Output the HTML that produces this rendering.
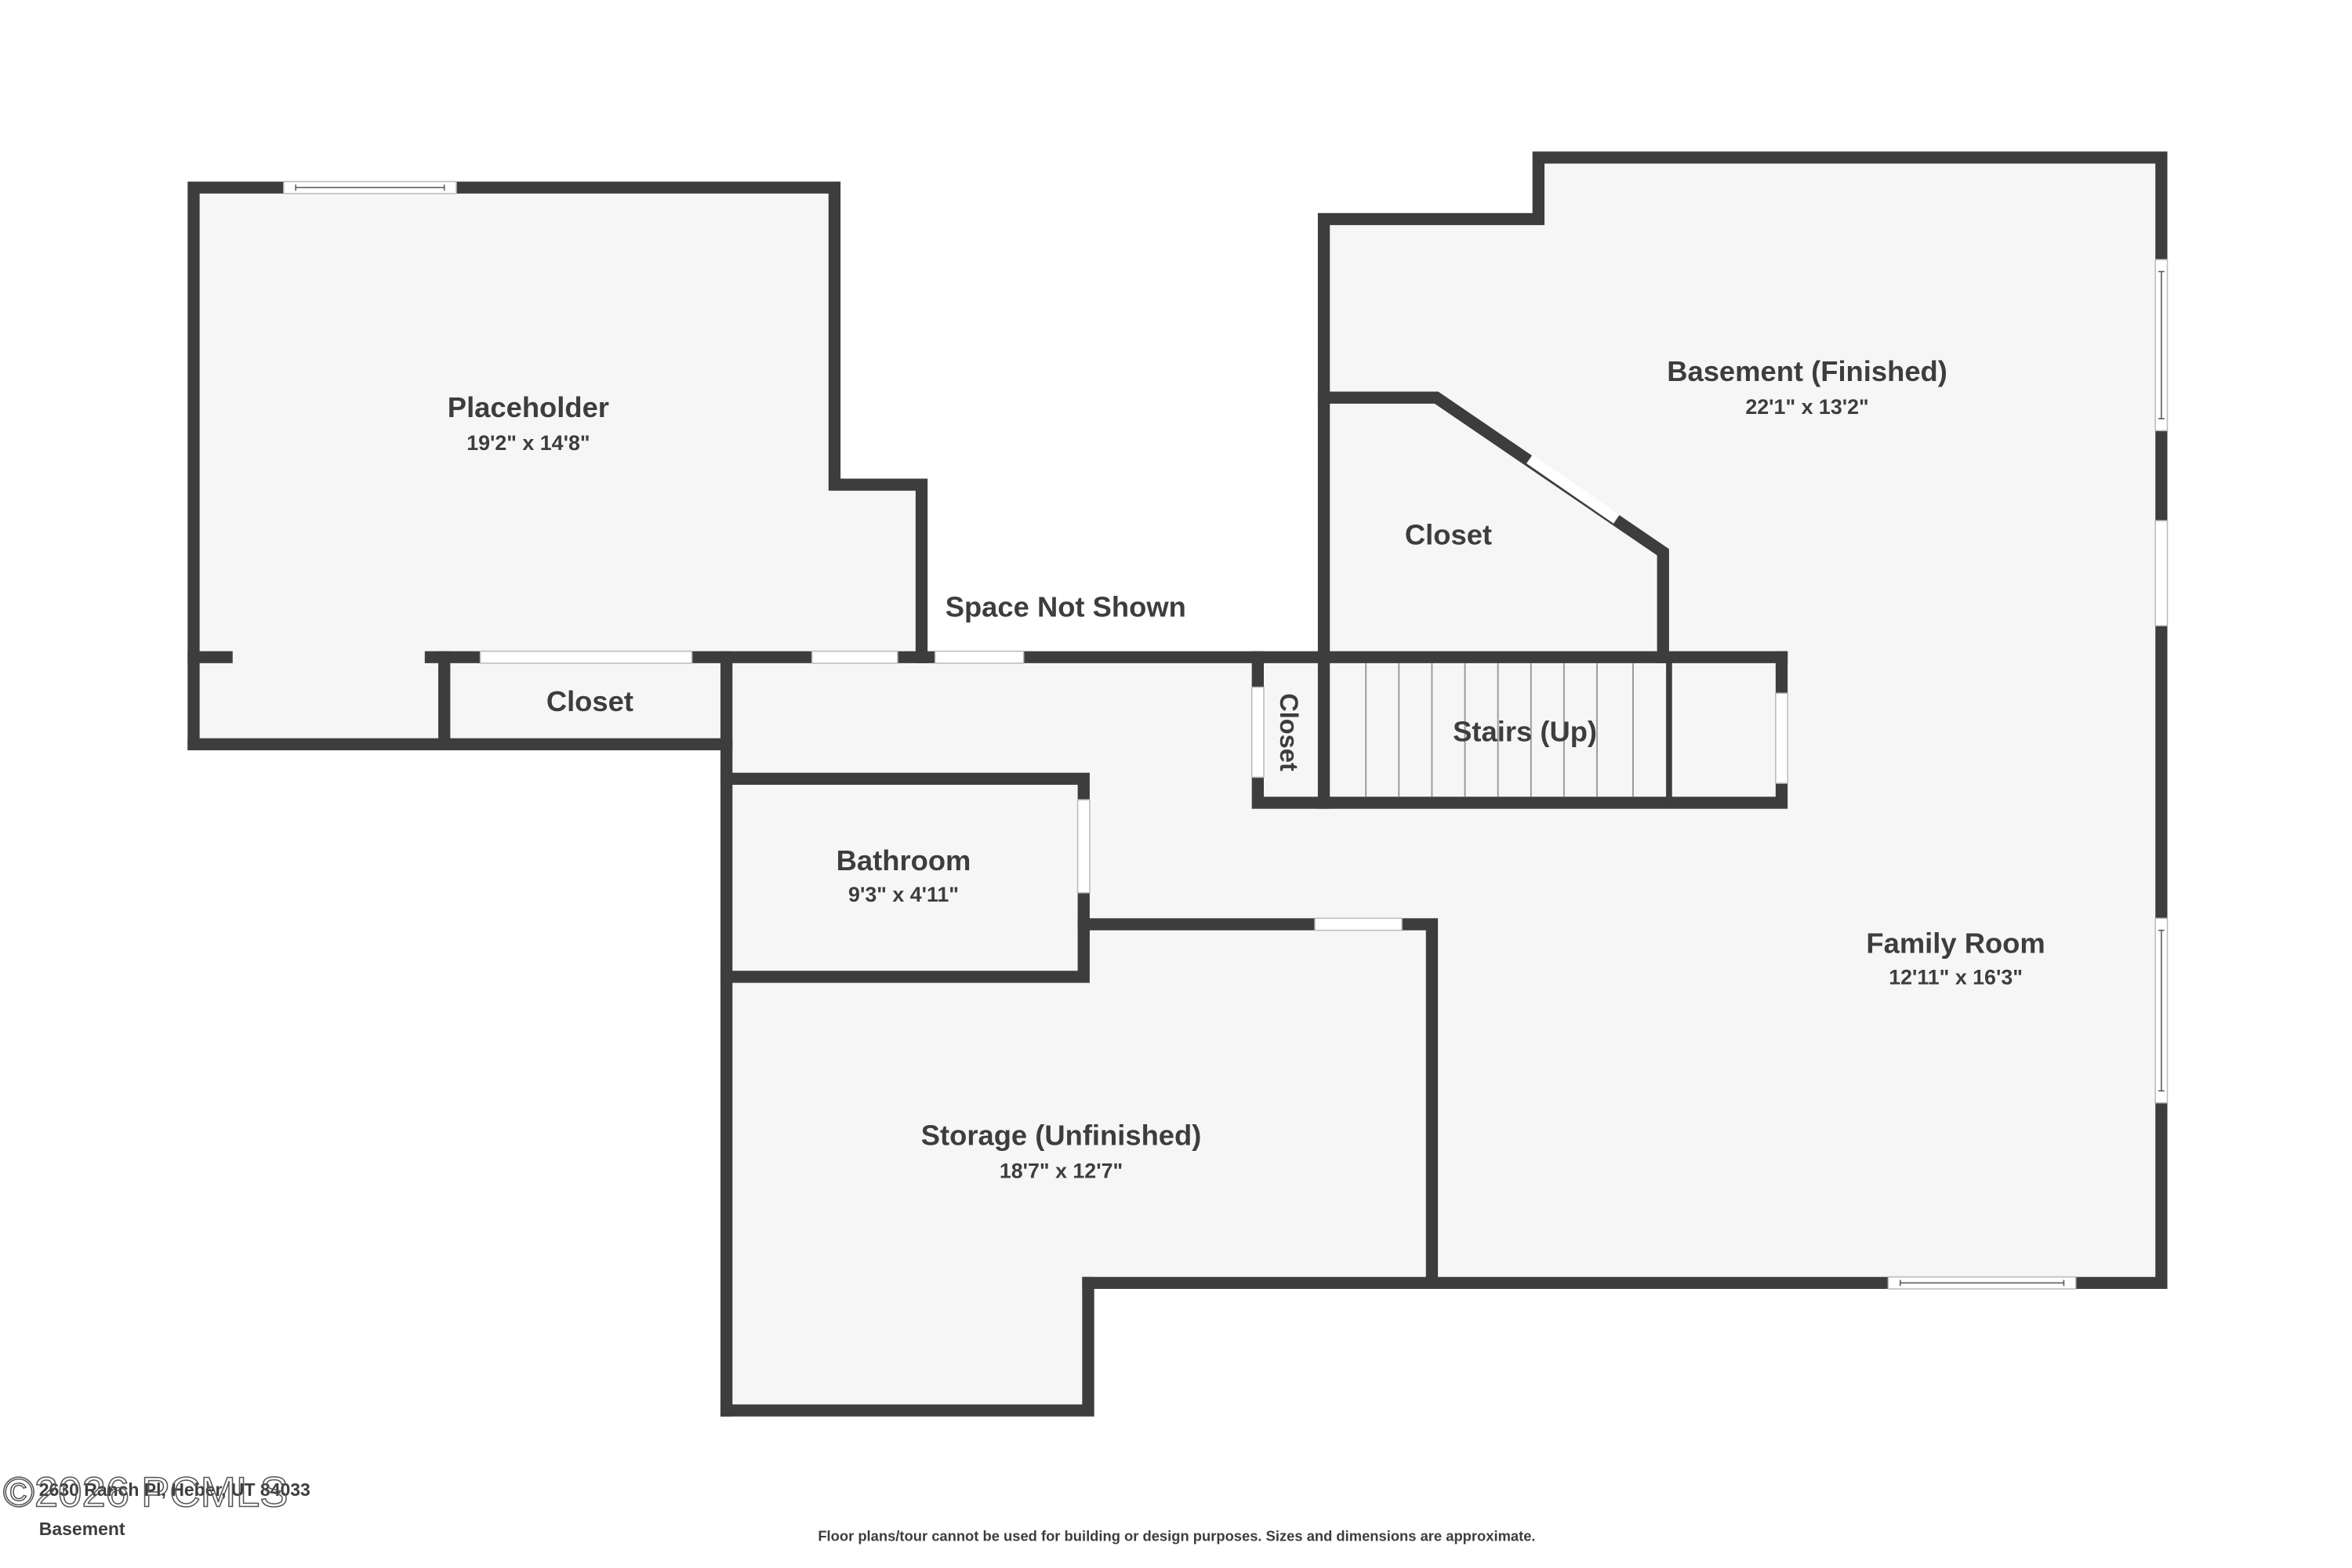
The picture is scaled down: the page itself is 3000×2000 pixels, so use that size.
<!DOCTYPE html>
<html><head><meta charset="utf-8"><style>
html,body{margin:0;padding:0;background:#fff;}
svg{display:block;}
text{font-family:"Liberation Sans",sans-serif;fill:#3d3d3d;font-weight:bold;}
</style></head><body>
<svg width="3000" height="2000" viewBox="0 0 1567 1045" preserveAspectRatio="none" xmlns="http://www.w3.org/2000/svg">
<rect width="1567" height="1045" fill="#fff"/>
<g fill="#f6f6f6">
<polygon points="129,125 556,125 556,323 614,323 614,438 484,438 484,496 129,496"/>
<polygon points="484,438 882,438 882,146 1025,146 1025,105 1440,105 1440,855 725,855 725,940 484,940"/>
</g>
<g stroke="#3d3d3d" stroke-width="8" fill="none" stroke-linecap="square">
<polyline points="129,496 129,125 556,125 556,323 614,323 614,438"/>
<line x1="129" y1="438" x2="151" y2="438"/>
<line x1="287" y1="438" x2="1187" y2="438"/>
<polyline points="129,496 484,496"/>
<line x1="296" y1="438" x2="296" y2="496"/>
<line x1="484" y1="438" x2="484" y2="940"/>
<polyline points="484,519 722,519 722,651 484,651"/>
<polyline points="722,616 954,616 954,855"/>
<polyline points="725,855 1440,855 1440,105 1025,105 1025,146 882,146 882,535"/>
<polyline points="484,940 725,940 725,855"/>
<polyline points="882,265 957,265 1108,368 1108,438"/>
<polyline points="838,438 838,535 1187,535 1187,438"/>
</g>
<line x1="1112" y1="438" x2="1112" y2="535" stroke="#3d3d3d" stroke-width="4"/>
<g stroke="#999" stroke-width="1">
<line x1="910" y1="442" x2="910" y2="531"/><line x1="932" y1="442" x2="932" y2="531"/>
<line x1="954" y1="442" x2="954" y2="531"/><line x1="976" y1="442" x2="976" y2="531"/>
<line x1="998" y1="442" x2="998" y2="531"/><line x1="1020" y1="442" x2="1020" y2="531"/>
<line x1="1042" y1="442" x2="1042" y2="531"/><line x1="1064" y1="442" x2="1064" y2="531"/>
<line x1="1088" y1="442" x2="1088" y2="531"/>
</g>
<g fill="#fff" stroke="#bbb" stroke-width="0.8">
<rect x="320" y="434" width="141" height="8"/>
<rect x="541" y="434" width="57" height="8"/>
<rect x="623" y="434" width="59" height="8"/>
<rect x="718" y="533" width="8" height="62"/>
<rect x="876" y="612" width="58" height="8"/>
<rect x="1436" y="347" width="8" height="70"/>
<rect x="834" y="458" width="8" height="60"/>
<rect x="1183" y="462" width="8" height="60"/>
<rect x="189" y="121" width="115" height="8"/>
<rect x="1436" y="173" width="8" height="114"/>
<rect x="1436" y="612" width="8" height="123"/>
<rect x="1258" y="851" width="125" height="8"/>
</g>
<g stroke="#555" stroke-width="0.8">
<line x1="197" y1="123" x2="197" y2="127"/><line x1="296" y1="123" x2="296" y2="127"/><line x1="197" y1="125" x2="296" y2="125"/>
<line x1="1438" y1="181" x2="1442" y2="181"/><line x1="1438" y1="279" x2="1442" y2="279"/><line x1="1440" y1="181" x2="1440" y2="279"/>
<line x1="1438" y1="620" x2="1442" y2="620"/><line x1="1438" y1="727" x2="1442" y2="727"/><line x1="1440" y1="620" x2="1440" y2="727"/>
<line x1="1266" y1="853" x2="1266" y2="857"/><line x1="1375" y1="853" x2="1375" y2="857"/><line x1="1266" y1="855" x2="1375" y2="855"/>
</g>
<line x1="1019" y1="306" x2="1077" y2="346" stroke="#fff" stroke-width="7"/>
<g text-anchor="middle">
<text x="352" y="278" font-size="19">Placeholder</text>
<text x="352" y="300" font-size="14">19'2" x 14'8"</text>
<text x="393" y="474" font-size="19">Closet</text>
<text x="710" y="411" font-size="19">Space Not Shown</text>
<text x="1204" y="254" font-size="19">Basement (Finished)</text>
<text x="1204" y="276" font-size="14">22'1" x 13'2"</text>
<text x="965" y="363" font-size="19">Closet</text>
<text x="1016" y="494" font-size="19">Stairs (Up)</text>
<text transform="translate(853,488) rotate(90)" font-size="17">Closet</text>
<text x="602" y="580" font-size="19">Bathroom</text>
<text x="602" y="601" font-size="14">9'3" x 4'11"</text>
<text x="1303" y="635" font-size="19">Family Room</text>
<text x="1303" y="656" font-size="14">12'11" x 16'3"</text>
<text x="707" y="763" font-size="19">Storage (Unfinished)</text>
<text x="707" y="785" font-size="14">18'7" x 12'7"</text>
<text x="784" y="1027" font-size="9.6">Floor plans/tour cannot be used for building or design purposes. Sizes and dimensions are approximate.</text>
</g>
<text x="26" y="997" font-size="12">2630 Ranch Pl, Heber, UT 84033</text>
<text x="2" y="1004" font-size="28" style="font-weight:normal;fill:none;stroke:#555;stroke-width:0.8" textLength="190" lengthAdjust="spacingAndGlyphs">©2026 PCMLS</text>
<text x="26" y="1023" font-size="12">Basement</text>
</svg>
</body></html>
